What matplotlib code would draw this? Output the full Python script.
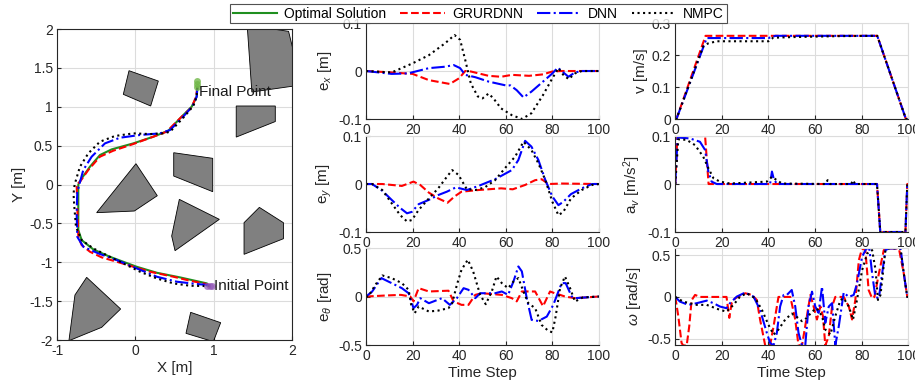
import matplotlib
matplotlib.use('Agg')
import matplotlib.pyplot as plt
from matplotlib.patches import Polygon
from matplotlib.lines import Line2D

plt.rcParams['font.family'] = ['Liberation Sans', 'DejaVu Sans']
plt.rcParams['mathtext.fontset'] = 'custom'
plt.rcParams['mathtext.rm'] = 'Liberation Sans'
plt.rcParams['mathtext.it'] = 'Liberation Sans:italic'

# ---------------- XY trajectories ----------------
opt_x = [0.92, 0.915, 0.573, 0.274, 0.017, -0.325, -0.538, -0.688, -0.731, -0.731, -0.731, -0.688,
         -0.582, -0.454, -0.304, -0.027, 0.229, 0.421, 0.571, 0.720, 0.784, 0.793]
opt_y = [-1.30, -1.272, -1.195, -1.135, -1.058, -0.93, -0.835, -0.715, -0.586, -0.071, 0.0, 0.079,
         0.229, 0.379, 0.452, 0.529, 0.615, 0.692, 0.851, 1.001, 1.130, 1.250]
gru_x = [0.957, 0.872, 0.70, 0.487, 0.188, -0.026, -0.239, -0.432, -0.581, -0.688, -0.731, -0.744,
         -0.752, -0.71, -0.603, -0.454, -0.283, -0.027, 0.229, 0.40, 0.592, 0.72, 0.776, 0.792]
gru_y = [-1.294, -1.272, -1.238, -1.186, -1.122, -1.058, -0.993, -0.937, -0.865, -0.779, -0.672, -0.285,
         0.0, 0.036, 0.187, 0.358, 0.435, 0.521, 0.615, 0.68, 0.872, 0.992, 1.13, 1.25]
dnn_x = [0.957, 0.786, 0.53, 0.274, 0.017, -0.239, -0.474, -0.667, -0.744, -0.752, -0.744, -0.718,
         -0.667, -0.56, -0.39, -0.198, 0.058, 0.315, 0.443, 0.592, 0.733, 0.784, 0.792]
dnn_y = [-1.294, -1.28, -1.25, -1.186, -1.079, -0.972, -0.886, -0.80, -0.672, -0.371, -0.1, 0.0,
         0.187, 0.358, 0.529, 0.602, 0.637, 0.658, 0.701, 0.851, 1.01, 1.13, 1.25]
nmpc_x = [0.957, 0.70, 0.487, 0.274, 0.06, -0.111, -0.325, -0.538, -0.688, -0.761, -0.782, -0.792,
          -0.778, -0.761, -0.71, -0.603, -0.454, -0.262, -0.027, 0.187, 0.357, 0.443, 0.605, 0.741,
          0.784, 0.792]
nmpc_y = [-1.307, -1.302, -1.272, -1.208, -1.122, -1.036, -0.93, -0.822, -0.715, -0.543, -0.285, -0.12,
          0.0, 0.058, 0.229, 0.401, 0.551, 0.624, 0.658, 0.649, 0.658, 0.679, 0.851, 1.01,
          1.13, 1.25]

obstacles = [
    [(-0.082, 1.464), (0.293, 1.331), (0.195, 1.010), (-0.155, 1.160)],
    [(1.43, 2.05), (1.96, 1.97), (2.05, 1.60), (2.05, 1.27), (1.49, 1.19)],
    [(1.29, 1.01), (1.79, 1.01), (1.79, 0.81), (1.29, 0.61)],
    [(0.49, 0.409), (0.989, 0.337), (0.989, -0.092), (0.49, 0.109)],
    [(0.007, 0.268), (0.280, -0.144), (-0.014, -0.341), (-0.496, -0.362)],
    [(0.562, -0.191), (1.074, -0.448), (0.507, -0.851), (0.464, -0.662)],
    [(1.586, -0.294), (1.894, -0.491), (1.894, -0.697), (1.39, -0.898), (1.39, -0.491)],
    [(-0.624, -1.194), (-0.189, -1.601), (-0.432, -1.837), (-0.851, -2.009), (-0.774, -1.421)],
    [(0.707, -1.644), (1.091, -1.777), (0.997, -2.021), (0.647, -1.914)],
]
start_x = [0.92, 0.95, 0.975]
start_y = [-1.30, -1.30, -1.30]
final_x = [0.79, 0.79, 0.79]
final_y = [1.33, 1.29, 1.25]

# ---------------- tracking errors ----------------
ex_t_gru = [0, 11, 20, 27, 36, 40, 42.6, 45, 52.6, 58, 62.6, 70, 76, 80, 84, 100]
ex_gru = [0, -0.003, -0.006, -0.019, -0.027, -0.015, 0, -0.001, -0.010, -0.012, -0.008, -0.010,
          -0.007, -0.001, 0, 0]
ex_t_dnn = [0, 11, 18, 27, 34, 37.6, 40.4, 42.6, 47, 52.6, 60, 62, 64.7, 67.6, 71, 76, 80, 82.3,
            84, 86.9, 89.7, 92.6, 100]
ex_dnn = [0, -0.006, -0.005, 0.006, 0.009, 0.0125, 0.006, -0.008, -0.013, -0.022, -0.03, -0.03,
          -0.04, -0.055, -0.043, -0.022, -0.005, 0.007, 0.0, -0.012, -0.003, 0, 0]
ex_t_nmpc = [0, 11, 20, 27, 34, 38, 40.4, 42.6, 45, 48, 50, 52.6, 54.7, 58, 62.6, 67, 71, 76, 80,
             82.6, 84.7, 87, 89.7, 92.6, 100]
ex_nmpc = [0, -0.003, 0.016, 0.033, 0.058, 0.075, 0.065, 0.023, -0.026, -0.053, -0.057, -0.047,
           -0.057, -0.078, -0.092, -0.1, -0.088, -0.05, -0.015, 0.006, -0.008, -0.017, -0.005, 0, 0]

ey_t_gru = [0, 7, 15.4, 20.4, 23.3, 27, 31, 35, 38, 41, 48.3, 58, 63, 68.3, 72.6, 75.4, 78.3, 84, 100]
ey_gru = [0, 0, -0.004, 0.005, -0.002, -0.018, -0.03, -0.039, -0.026, -0.016, -0.0125, -0.009,
          -0.011, -0.002, 0.008, 0.01, 0, 0.001, 0]
ey_t_dnn = [0, 2.6, 7, 11, 14.7, 17.6, 19.7, 22.6, 27, 31, 34.7, 38.6, 43.3, 48.3, 55.4, 62.6, 65.4,
            68.3, 71, 74, 77, 80, 82.6, 84.7, 88, 92.6, 97, 100]
ey_dnn = [0, 0, -0.014, -0.033, -0.05, -0.061, -0.058, -0.042, -0.033, -0.023, -0.016, -0.007,
          -0.0125, -0.004, 0.01, 0.029, 0.05, 0.09, 0.078, 0.05, 0.008, -0.026, -0.044, -0.037,
          -0.021, -0.009, 0, 0]
ey_t_nmpc = [0, 2.6, 7, 11, 14.7, 17.6, 19.7, 22.6, 27, 31, 34.7, 37, 39.7, 43.3, 47, 51, 55.4, 60,
             64, 67.6, 71, 74, 77, 80, 82.6, 84.7, 88, 92.6, 97, 100]
ey_nmpc = [0, 0, -0.0125, -0.04, -0.065, -0.078, -0.075, -0.054, -0.03, -0.009, 0.015, 0.029,
           0.019, -0.011, -0.0125, -0.007, 0.008, 0.035, 0.057, 0.088, 0.071, 0.043, 0.008, -0.037,
           -0.065, -0.058, -0.03, -0.0125, -0.002, 0]

eth_t_gru = [0, 8, 15, 19, 20.4, 22.6, 27, 35.4, 37.6, 41, 44, 46.9, 49.7, 58.3, 62.6, 64.7, 66.9,
             69.7, 72.6, 76, 79, 81, 83.3, 85.4, 89.7, 100]
eth_gru = [0, 0.01, 0.017, 0, -0.05, 0.086, 0.052, 0.06, -0.05, -0.086, -0.086, 0.017, 0.034,
           0.017, -0.017, -0.05, 0.052, 0.052, 0.052, -0.1, 0.052, 0.034, 0.017, 0, -0.017, 0]
eth_t_dnn = [0, 2.6, 6.6, 11, 15.4, 18.3, 20.4, 21.9, 23.3, 27, 32.6, 36, 39, 41.9, 44, 46.9, 49,
             55.4, 58.3, 61, 63.3, 65.4, 66.9, 69, 71.1, 74, 77.6, 80.4, 82.6, 84, 85.7, 88.3, 89.7, 100]
eth_dnn = [0, 0.05, 0.19, 0.138, 0.086, 0.034, -0.12, -0.086, -0.017, -0.069, -0.017, -0.086,
           -0.017, 0.086, 0.069, -0.017, 0.034, 0.034, 0.052, 0.017, 0.155, 0.31, 0.259, -0.017,
           -0.241, -0.252, -0.207, -0.086, 0.052, 0.138, 0.138, 0, -0.017, 0]
eth_t_nmpc = [0, 1, 4, 7, 11, 15.4, 18.3, 19.4, 20.9, 22.6, 27, 31, 35.4, 37, 39, 41, 43.7, 46, 49,
              51.4, 54, 56, 58.3, 61, 63.3, 65.4, 67.6, 69.7, 72.6, 75.4, 78.3, 80, 81.4, 83.3,
              85.4, 87.6, 89.7, 93, 100]
eth_nmpc = [0, 0, 0.12, 0.217, 0.19, 0.138, 0.069, -0.086, -0.172, -0.103, -0.155, -0.145, -0.12,
            -0.069, 0.12, 0.276, 0.379, 0.259, 0.017, -0.079, 0.052, 0.207, 0.138, 0.086, 0.155,
            0.19, 0.052, -0.069, -0.12, -0.293, -0.355, -0.369, -0.207, 0.086, 0.207, 0.086,
            -0.052, -0.01, 0]

# ---------------- control inputs ----------------
v_t_gru = [0, 0.5, 13, 86.7, 99, 100]
v_gru = [0, 0, 0.26, 0.26, 0, 0]
v_t_dnn = [0, 0.5, 13.5, 40, 43, 86.7, 99, 100]
v_dnn = [0, 0, 0.253, 0.253, 0.26, 0.26, 0, 0]
v_t_nmpc = [0, 0.5, 12, 14, 17.8, 40, 42, 50, 70, 86.7, 99, 100]
v_nmpc = [0, 0, 0.227, 0.236, 0.243, 0.243, 0.254, 0.256, 0.259, 0.26, 0, 0]

av_t_gru = [0, 0.9, 12.8, 14.3, 86.6, 88, 98.8, 99.6, 100]
av_gru = [0, 0.1, 0.1, 0, 0, -0.1, -0.1, 0, 0]
av_t_dnn = [0, 1, 6.3, 10.6, 12.8, 14.2, 15.6, 17.8, 40.7, 41.5, 42.2, 43.6, 86.6, 88, 98.8, 99.6, 100]
av_dnn = [0, 0.097, 0.095, 0.088, 0.071, 0.026, 0.005, 0, 0, 0.026, 0.012, 0, 0, -0.1, -0.1, 0, 0]
av_t_nmpc = [0, 1.3, 4.9, 8.5, 12, 14.2, 16.4, 19.2, 23.5, 39.3, 41.5, 43.6, 45.8, 64.5, 65.4, 66.5,
             75.5, 76.3, 77.2, 86.6, 88, 98.8, 99.6, 100]
av_nmpc = [0, 0.093, 0.092, 0.081, 0.057, 0.033, 0.012, 0.005, 0.001, 0.005, 0.015, 0.008, 0.001,
           0, 0.008, 0, 0, 0.008, 0, 0, -0.1, -0.1, 0, 0]

w_t_gru = [0, 1.3, 2.7, 3.4, 4.9, 6, 7, 8.5, 10.6, 22, 23.2, 24.2, 25.7, 30, 32.9, 35, 36.4, 38.6,
           40.7, 42.2, 44.3, 49.4, 51.5, 52.9, 54.4, 56.5, 58, 59.4, 60.8, 62.3, 63.4, 64.4, 65.9,
           67.3, 68.7, 72.3, 74.5, 75.9, 77.3, 78.8, 80.2, 81.6, 83, 84.5, 85.5, 87.4, 89.5, 91,
           96, 98.1, 99.6, 100]
w_gru = [0, -0.23, -0.55, -0.58, -0.58, -0.35, -0.04, 0.024, 0, 0, -0.25, -0.075, -0.016, 0.044,
         0.024, -0.036, -0.27, -0.58, -0.58, -0.35, 0, 0, -0.27, -0.58, -0.58, -0.23, 0.024,
         -0.115, -0.27, -0.115, -0.23, -0.58, -0.47, -0.115, 0, 0, -0.115, -0.27, -0.036, 0.44,
         0.58, 0.56, 0.083, -0.016, 0, 0.28, 0.56, 0.58, 0.58, 0.28, 0, 0]
w_t_dnn = [0, 2, 5.6, 9.2, 13.5, 16.4, 19.2, 22, 23.5, 26.4, 30, 33.6, 36.4, 39.3, 40.7, 42.2, 43.6,
           45, 46.5, 47.9, 50, 51.5, 52.9, 54.4, 55.8, 57.2, 58.7, 60.1, 61.5, 63, 64.4, 65.9,
           67.3, 68.7, 70.2, 72.3, 74.5, 76.6, 78, 80.2, 82, 83.3, 84.5, 85.9, 87.4, 88.8, 90.2,
           91.7, 96.7, 98.1, 99.6, 100]
w_dnn = [0, -0.056, -0.095, -0.075, -0.044, -0.075, -0.115, -0.135, -0.075, 0.004, 0.052, 0.004,
         -0.155, -0.43, -0.55, -0.58, -0.43, -0.115, 0.024, 0.024, 0.083, -0.115, -0.43, -0.58,
         -0.58, -0.115, 0.063, -0.115, -0.19, 0.123, -0.31, -0.115, -0.075, -0.58, -0.35, 0.052,
         0, 0.024, 0.16, 0.48, 0.58, 0.58, 0.28, 0, -0.016, 0.28, 0.56, 0.58, 0.58, 0.28, 0, 0]
w_t_nmpc = [0, 3.4, 9.2, 13.5, 19.2, 22, 25, 27.8, 30.7, 34.3, 37.2, 40, 42.2, 44.3, 47.2, 50,
            52.2, 54.4, 56.5, 58.7, 60.8, 63, 64.4, 66.6, 68.7, 70.9, 72.3, 74.5, 76.3, 78, 80.2,
            82.4, 84.5, 86, 87, 88.1, 90.2, 91.7, 96.7, 98.1, 99.6, 100]
w_nmpc = [0, -0.056, -0.095, -0.095, -0.155, -0.175, -0.095, 0.004, 0.044, -0.016, -0.155, -0.333,
          -0.45, -0.39, -0.27, -0.2, -0.24, -0.29, -0.25, -0.175, -0.135, -0.23, -0.39, -0.45,
          -0.23, -0.036, -0.016, -0.115, -0.27, -0.036, 0.32, 0.52, 0.56, 0.32, -0.036, 0.024,
          0.56, 0.58, 0.58, 0.28, 0, 0]

labels = ['Optimal Solution', 'GRURDNN', 'DNN', 'NMPC']
colors = ['#1f8f1f', '#ff0000', '#0000ff', '#000000']
styles = ['-', '--', '-.', ':']
LW = 1.5
AX_COLOR = '#262626'


def style_axes(ax, full_box=False):
    ax.grid(True, color='#dcdcdc', linewidth=0.8)
    ax.set_axisbelow(True)
    ax.tick_params(direction='in', length=3, labelsize=10, colors=AX_COLOR, pad=3)
    for side in ['left', 'bottom']:
        ax.spines[side].set_color(AX_COLOR)
    for side in ['top', 'right']:
        ax.spines[side].set_color(AX_COLOR if full_box else '#dcdcdc')


def plot_three(ax, data):
    for (t, y), c, s in zip(data, colors[1:], styles[1:]):
        ax.plot(t, y, color=c, linestyle=s, linewidth=LW)


fig = plt.figure(figsize=(9.15, 3.87), dpi=100)

# XY plot
ax = fig.add_axes([0.0626, 0.1214, 0.2562, 0.8036])
for poly in obstacles:
    ax.add_patch(Polygon(poly, closed=True, facecolor='#808080', edgecolor='black', linewidth=0.6))
ax.plot(opt_x, opt_y, color=colors[0], linestyle='-', linewidth=LW)
ax.plot(gru_x, gru_y, color=colors[1], linestyle='--', linewidth=LW)
ax.plot(dnn_x, dnn_y, color=colors[2], linestyle='-.', linewidth=LW)
ax.plot(nmpc_x, nmpc_y, color=colors[3], linestyle=':', linewidth=LW)
ax.plot(start_x, start_y, linestyle='none', marker='o', markersize=5, color='#9055b5',
        alpha=0.7, markeredgewidth=0)
ax.plot(final_x, final_y, linestyle='none', marker='o', markersize=5, color='#72b84a',
        alpha=0.8, markeredgewidth=0)
ax.text(1.0, -1.305, 'Initial Point', fontsize=11, va='center', ha='left', color='#1a1a1a')
ax.text(0.81, 1.19, 'Final Point', fontsize=11, va='center', ha='left', color='#1a1a1a')
ax.set_xlim(-1, 2)
ax.set_ylim(-2, 2)
ax.set_xticks([-1, 0, 1, 2])
ax.set_yticks([-2, -1.5, -1, -0.5, 0, 0.5, 1, 1.5, 2])
ax.set_yticklabels(['-2', '-1.5', '-1', '-0.5', '0', '0.5', '1', '1.5', '2'])
ax.set_xticklabels(['-1', '0', '1', '2'])
ax.set_xlabel('X [m]', fontsize=11, color=AX_COLOR, labelpad=2)
ax.set_ylabel('Y [m]', fontsize=11, color=AX_COLOR, labelpad=2)
style_axes(ax, full_box=True)

rows_b = [0.6925, 0.4005, 0.1085]
rows_h = [0.248, 0.248, 0.2506]
mid_panels = [
    ([(ex_t_gru, ex_gru), (ex_t_dnn, ex_dnn), (ex_t_nmpc, ex_nmpc)], (-0.1, 0.1), [-0.1, 0, 0.1],
     ['-0.1', '0', '0.1'], 'e$_x$ [m]'),
    ([(ey_t_gru, ey_gru), (ey_t_dnn, ey_dnn), (ey_t_nmpc, ey_nmpc)], (-0.1, 0.1), [-0.1, 0, 0.1],
     ['-0.1', '0', '0.1'], 'e$_y$ [m]'),
    ([(eth_t_gru, eth_gru), (eth_t_dnn, eth_dnn), (eth_t_nmpc, eth_nmpc)], (-0.5, 0.5),
     [-0.5, 0, 0.5], ['-0.5', '0', '0.5'], r'e$_{\theta}$ [rad]'),
]
right_panels = [
    ([(v_t_gru, v_gru), (v_t_dnn, v_dnn), (v_t_nmpc, v_nmpc)], (0, 0.3), [0, 0.1, 0.2, 0.3],
     ['0', '0.1', '0.2', '0.3'], 'v [m/s]'),
    ([(av_t_gru, av_gru), (av_t_dnn, av_dnn), (av_t_nmpc, av_nmpc)], (-0.1, 0.1), [-0.1, 0, 0.1],
     ['-0.1', '0', '0.1'], 'a$_v$ [m/s$^2$]'),
    ([(w_t_gru, w_gru), (w_t_dnn, w_dnn), (w_t_nmpc, w_nmpc)], (-0.575, 0.585), [-0.5, 0, 0.5],
     ['-0.5', '0', '0.5'], r'$\omega$ [rad/s]'),
]

for left, panels in [(0.4, mid_panels), (0.738, right_panels)]:
    for i, (data, ylim, yt, ytl, ylab) in enumerate(panels):
        ax = fig.add_axes([left, rows_b[i], 0.2546, rows_h[i]])
        plot_three(ax, data)
        ax.set_xlim(0, 100)
        ax.set_ylim(*ylim)
        ax.set_xticks([0, 20, 40, 60, 80, 100])
        ax.set_xticklabels(['0', '20', '40', '60', '80', '100'])
        ax.set_yticks(yt)
        ax.set_yticklabels(ytl)
        ax.set_ylabel(ylab, fontsize=11, color=AX_COLOR, labelpad=3)
        if i == 2:
            ax.set_xlabel('Time Step', fontsize=11, color=AX_COLOR, labelpad=2)
        style_axes(ax)

handles = [Line2D([], [], color=c, linestyle=s, linewidth=LW) for c, s in zip(colors, styles)]
leg = fig.legend(handles, labels, loc='upper center', bbox_to_anchor=(0.523, 1.008), ncol=4,
                 fontsize=10, frameon=True, fancybox=False, edgecolor=AX_COLOR,
                 handlelength=3.2, columnspacing=1.0, handletextpad=0.5, borderpad=0.2)
leg.get_frame().set_linewidth(0.8)

fig.savefig('out.png', dpi=100)
plt.close(fig)
